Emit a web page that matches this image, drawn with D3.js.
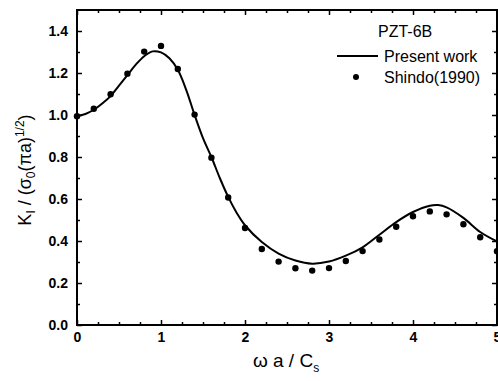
<!DOCTYPE html>
<html>
<head>
<meta charset="utf-8">
<script src="https://cdn.jsdelivr.net/npm/d3@7"></script>
<style>
  body { margin: 0; background: #fff; }
  text { font-family: "Liberation Sans", Arial, sans-serif; fill: #000; }
</style>
</head>
<body>
<svg id="chart" width="498" height="381"></svg>
<script>
// Present work (solid curve)
const curveX = [0, 0.1, 0.2, 0.3, 0.4, 0.5, 0.6, 0.7, 0.8, 0.9, 1.0, 1.1, 1.2, 1.3, 1.4, 1.5, 1.6, 1.7, 1.8, 1.9, 2.0, 2.2, 2.4, 2.6, 2.8, 3.0, 3.2, 3.4, 3.6, 3.8, 4.0, 4.2, 4.3, 4.4, 4.6, 4.8, 5.0];
const curveY = [0.995, 1.005, 1.025, 1.055, 1.09, 1.14, 1.19, 1.24, 1.28, 1.303, 1.298, 1.27, 1.215, 1.12, 1.0, 0.89, 0.80, 0.70, 0.61, 0.535, 0.475, 0.395, 0.34, 0.307, 0.292, 0.302, 0.33, 0.37, 0.43, 0.49, 0.538, 0.568, 0.571, 0.56, 0.51, 0.443, 0.398];

// Shindo (1990) points
const shindoX = [0, 0.2, 0.4, 0.6, 0.8, 1.0, 1.2, 1.4, 1.6, 1.8, 2.0, 2.2, 2.4, 2.6, 2.8, 3.0, 3.2, 3.4, 3.6, 3.8, 4.0, 4.2, 4.4, 4.6, 4.8, 5.0];
const shindoY = [0.994, 1.03, 1.099, 1.197, 1.302, 1.329, 1.219, 1.002, 0.797, 0.607, 0.462, 0.362, 0.302, 0.27, 0.259, 0.271, 0.305, 0.352, 0.407, 0.468, 0.518, 0.541, 0.527, 0.48, 0.418, 0.351];

const xMajor = [0, 1, 2, 3, 4, 5];
const yMajor = [0, 0.2, 0.4, 0.6, 0.8, 1.0, 1.2, 1.4];

const svg = d3.select("#chart");
const plotLeft = 77, plotRight = 497, plotTop = 10, plotBottom = 325;

const x = d3.scaleLinear().domain([0, 5]).range([plotLeft, plotRight]);
const y = d3.scaleLinear().domain([0, 1.5]).range([plotBottom, plotTop]);

const xMinor = d3.range(0, 5.001, 0.25).filter(v => !xMajor.includes(v));
const yMinor = d3.range(1, 15, 2).map(v => v / 10);

// axes: ticks point inward
function styleAxis(g) {
    g.select(".domain").remove();
    g.selectAll("line").attr("stroke", "#000").attr("stroke-width", 1.5);
    g.selectAll("text").style("font-size", "14px").style("font-weight", "bold")
        .style("font-family", "'Liberation Sans', Arial, sans-serif");
}

svg.append("g").attr("transform", `translate(0,${plotBottom})`)
    .call(d3.axisBottom(x).tickValues(xMajor).tickFormat(d3.format("d")).tickSize(-5).tickPadding(7))
    .call(styleAxis);
svg.append("g").attr("transform", `translate(0,${plotBottom})`)
    .call(d3.axisBottom(x).tickValues(xMinor).tickFormat("").tickSize(-3))
    .call(styleAxis);
svg.append("g").attr("transform", `translate(0,${plotTop})`)
    .call(d3.axisTop(x).tickValues(xMajor).tickFormat("").tickSize(-5))
    .call(styleAxis);
svg.append("g").attr("transform", `translate(0,${plotTop})`)
    .call(d3.axisTop(x).tickValues(xMinor).tickFormat("").tickSize(-3))
    .call(styleAxis);

svg.append("g").attr("transform", `translate(${plotLeft},0)`)
    .call(d3.axisLeft(y).tickValues(yMajor).tickFormat(d3.format(".1f")).tickSize(-5).tickPadding(9))
    .call(styleAxis);
svg.append("g").attr("transform", `translate(${plotLeft},0)`)
    .call(d3.axisLeft(y).tickValues(yMinor).tickFormat("").tickSize(-3))
    .call(styleAxis);
svg.append("g").attr("transform", `translate(${plotRight},0)`)
    .call(d3.axisRight(y).tickValues(yMajor).tickFormat("").tickSize(-5))
    .call(styleAxis);
svg.append("g").attr("transform", `translate(${plotRight},0)`)
    .call(d3.axisRight(y).tickValues(yMinor).tickFormat("").tickSize(-3))
    .call(styleAxis);

// frame
svg.append("rect")
    .attr("x", plotLeft).attr("y", plotTop)
    .attr("width", plotRight - plotLeft).attr("height", plotBottom - plotTop)
    .attr("fill", "none").attr("stroke", "#000").attr("stroke-width", 2);

// curve
const line = d3.line()
    .x((d, i) => x(curveX[i]))
    .y(d => y(d))
    .curve(d3.curveCatmullRom.alpha(0.5));

svg.append("path")
    .datum(curveY)
    .attr("d", line)
    .attr("fill", "none")
    .attr("stroke", "#000")
    .attr("stroke-width", 2);

// points
svg.append("g").selectAll("circle")
    .data(shindoY)
    .join("circle")
    .attr("cx", (d, i) => x(shindoX[i]))
    .attr("cy", d => y(d))
    .attr("r", 3.2)
    .attr("fill", "#000");

// legend
const legend = svg.append("g").style("font-size", "16px");
legend.append("text").attr("x", 378).attr("y", 37).text("PZT-6B");
legend.append("line")
    .attr("x1", 337).attr("x2", 378).attr("y1", 56).attr("y2", 56)
    .attr("stroke", "#000").attr("stroke-width", 2);
legend.append("text").attr("x", 384).attr("y", 62).text("Present work");
legend.append("circle").attr("cx", 356).attr("cy", 77).attr("r", 3).attr("fill", "#000");
legend.append("text").attr("x", 384).attr("y", 83).text("Shindo(1990)");

// x title
const xt = svg.append("text")
    .attr("x", 286).attr("y", 367)
    .attr("text-anchor", "middle")
    .style("font-size", "19px");
xt.append("tspan").text("ω a / C");
xt.append("tspan").attr("dy", 5).style("font-size", "12px").text("s");

// y title
const yt = svg.append("text")
    .attr("transform", "translate(31,170) rotate(-90)")
    .attr("text-anchor", "middle")
    .style("font-size", "18px");
yt.append("tspan").text("K");
yt.append("tspan").attr("dy", 4).style("font-size", "12px").text("I");
yt.append("tspan").attr("dy", -4).text(" / (σ");
yt.append("tspan").attr("dy", 4).style("font-size", "12px").text("0");
yt.append("tspan").attr("dy", -4).text("(πa)");
yt.append("tspan").attr("dy", -7).style("font-size", "12px").text("1/2");
yt.append("tspan").attr("dy", 7).text(")");
</script>
</body>
</html>
